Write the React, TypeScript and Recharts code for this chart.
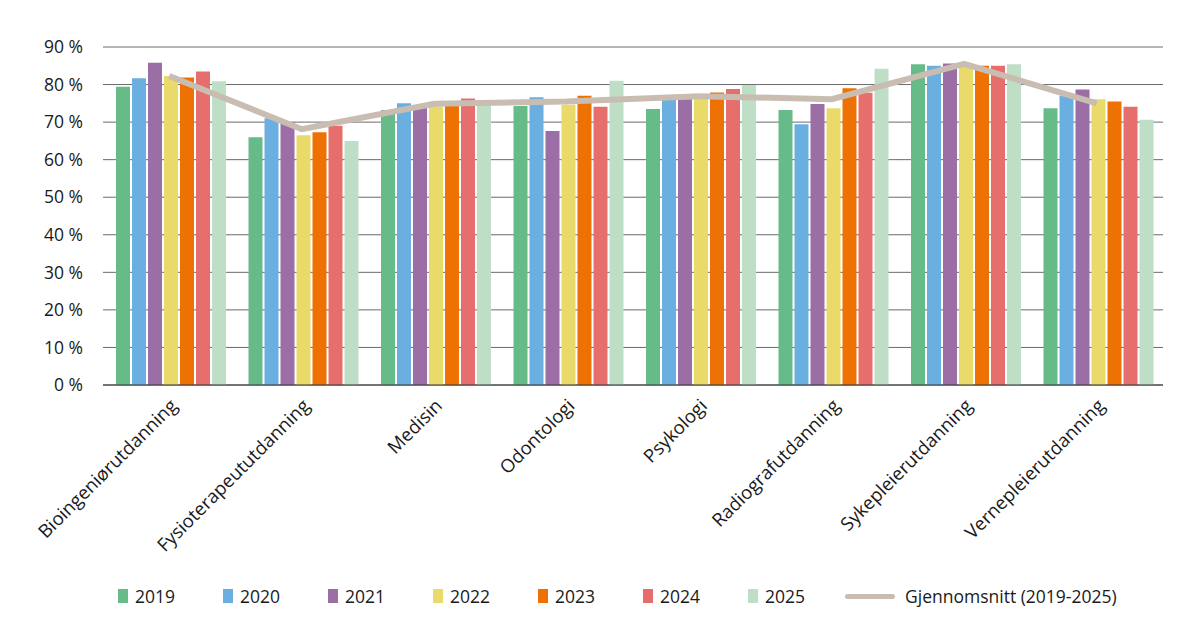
import { ComposedChart, Bar, Line, XAxis, YAxis, CartesianGrid } from "recharts";

const categories = [
  "Bioingeniørutdanning",
  "Fysioterapeututdanning",
  "Medisin",
  "Odontologi",
  "Psykologi",
  "Radiografutdanning",
  "Sykepleierutdanning",
  "Vernepleierutdanning",
];

const years = ["2019", "2020", "2021", "2022", "2023", "2024", "2025"];
const yearColors = ["#66bb88", "#6aafe0", "#9b6ea6", "#e9da6a", "#ee7203", "#e66e6c", "#bfdec6"];

const v2019 = [79.4, 66.0, 73.2, 74.3, 73.5, 73.2, 85.4, 73.7];
const v2020 = [81.7, 71.0, 75.0, 76.6, 75.9, 69.4, 85.0, 77.0];
const v2021 = [85.8, 70.0, 73.8, 67.6, 76.2, 74.8, 85.6, 78.7];
const v2022 = [82.3, 66.5, 74.2, 74.6, 76.5, 73.7, 85.2, 76.1];
const v2023 = [81.9, 67.3, 74.3, 77.0, 77.9, 79.0, 85.0, 75.5];
const v2024 = [83.5, 69.0, 76.3, 74.1, 78.8, 77.8, 85.0, 74.1];
const v2025 = [80.9, 65.0, 75.0, 81.0, 79.9, 84.2, 85.4, 70.6];
const average = [82.3, 68.1, 74.9, 75.5, 76.9, 76.1, 85.5, 75.0];

const avgLabel = "Gjennomsnitt (2019-2025)";
const avgColor = "#c9bdb2";
const yTicks = [0, 10, 20, 30, 40, 50, 60, 70, 80, 90];

const seriesValues = [v2019, v2020, v2021, v2022, v2023, v2024, v2025];

const data = categories.map((name, i) => {
  const row: Record<string, string | number> = { name, avg: average[i] };
  years.forEach((y, k) => {
    row[y] = seriesValues[k][i];
  });
  return row;
});

const font = "'Open Sans', sans-serif";

function XTick({ x, y, payload }: any) {
  return (
    <text
      x={x + 9}
      y={y + 14}
      transform={`rotate(-45 ${x + 9} ${y + 14})`}
      textAnchor="end"
      fontSize={18.5}
      fontFamily={font}
      fill="#1a1a1a"
    >
      {payload.value}
    </text>
  );
}

export default function App() {
  return (
    <div style={{ width: 1184, fontFamily: font }}>
      <ComposedChart
        width={1184}
        height={556}
        data={data}
        margin={{ top: 39, right: 29, bottom: 0, left: 0 }}
        barCategoryGap={13}
        barGap={2}
      >
        <CartesianGrid vertical={false} stroke="#6a6a6a" strokeWidth={1} />
        <XAxis
          dataKey="name"
          interval={0}
          tickLine={false}
          axisLine={{ stroke: "#333" }}
          height={179}
          tick={<XTick />}
        />
        <YAxis
          domain={[0, 90]}
          ticks={yTicks}
          width={95}
          axisLine={false}
          tickLine={false}
          tickSize={0}
          tickMargin={20}
          tickFormatter={(v: number) => `${v} %`}
          tick={{ fontSize: 17.5, fontFamily: font, fill: "#1a1a1a" }}
        />
        {years.map((y, k) => (
          <Bar key={y} dataKey={y} fill={yearColors[k]} isAnimationActive={false} />
        ))}
        <Line
          dataKey="avg"
          stroke={avgColor}
          strokeWidth={6}
          dot={false}
          activeDot={false}
          isAnimationActive={false}
        />
      </ComposedChart>
      <div
        style={{
          display: "flex",
          alignItems: "center",
          marginTop: 20,
          marginLeft: 110,
          fontSize: 17.5,
          color: "#1a1a1a",
        }}
      >
        {years.map((y, k) => (
          <div key={y} style={{ display: "flex", alignItems: "center", width: 105 }}>
            <span style={{ display: "inline-block", width: 10, height: 14, background: yearColors[k], marginRight: 7 }} />
            <span>{y}</span>
          </div>
        ))}
        <div style={{ display: "flex", alignItems: "center", marginLeft: -8 }}>
          <span style={{ display: "inline-block", width: 50, height: 5, borderRadius: 3, background: avgColor, marginRight: 10 }} />
          <span>{avgLabel}</span>
        </div>
      </div>
    </div>
  );
}
